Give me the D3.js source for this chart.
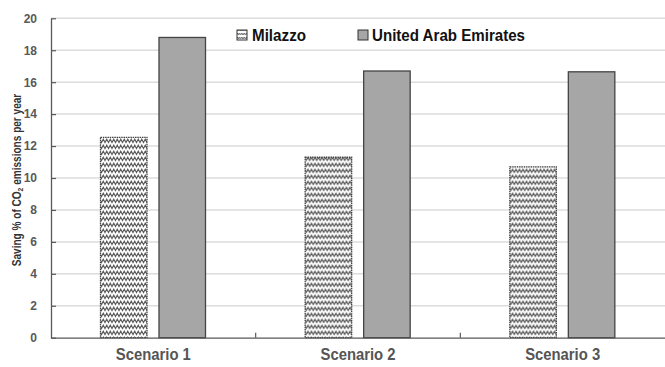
<!DOCTYPE html>
<html>
<head>
<meta charset="utf-8">
<script src="https://cdn.jsdelivr.net/npm/d3@7"></script>
<style>
  html, body { margin: 0; padding: 0; background: #fff; }
  svg { display: block; }
  text { font-family: "Liberation Sans", Arial, sans-serif; font-weight: bold; }
</style>
</head>
<body>
<svg id="chart" width="665" height="367"></svg>
<script>
// Scenario categories and CO2 saving percentages per year
const scenarios = ["Scenario 1", "Scenario 2", "Scenario 3"];
const seriesNames = ["Milazzo", "United Arab Emirates"];
const milazzo = [12.55, 11.3, 10.7];
const uae = [18.8, 16.7, 16.65];
const yTicks = [0, 2, 4, 6, 8, 10, 12, 14, 16, 18, 20];

const rows = scenarios.map((s, i) => ({ scenario: s, values: [milazzo[i], uae[i]] }));

const svg = d3.select("#chart");
const margin = { left: 51, right: 0, top: 18, bottom: 29 };
const W = 665, H = 367;

const x = d3.scaleBand().domain(scenarios).range([margin.left, W - margin.right]).paddingInner(0).paddingOuter(0);
const xs = d3.scaleBand().domain(seriesNames).range([49.5, 154.5]).paddingInner(0.205);
const y = d3.scaleLinear().domain([0, 20]).range([H - margin.bottom - 0.3, margin.top + 0.3]);

// Zigzag hatch used for the Milazzo bars
const defs = svg.append("defs");
const pat = defs.append("pattern")
  .attr("id", "zigzag")
  .attr("patternUnits", "userSpaceOnUse")
  .attr("width", 7).attr("height", 6);
pat.append("rect").attr("width", 7).attr("height", 6).attr("fill", "#fff");
pat.append("path")
  .attr("d", "M-1.75,1.2 L0,4.6 L1.75,1.2 L3.5,4.6 L5.25,1.2 L7,4.6 L8.75,1.2")
  .attr("fill", "none").attr("stroke", "#5a5a5a").attr("stroke-width", 1.15);

const patSmall = defs.append("pattern")
  .attr("id", "zigzagSmall")
  .attr("patternUnits", "userSpaceOnUse")
  .attr("width", 4.5).attr("height", 4);
patSmall.append("rect").attr("width", 4.5).attr("height", 4).attr("fill", "#fff");
patSmall.append("path")
  .attr("d", "M0,3 L1.125,1 L2.25,3 L3.375,1 L4.5,3")
  .attr("fill", "none").attr("stroke", "#555").attr("stroke-width", 0.9);

// Horizontal gridlines
svg.append("g")
  .selectAll("line")
  .data(yTicks.filter(t => t > 0))
  .join("line")
  .attr("x1", margin.left).attr("x2", W)
  .attr("y1", d => y(d)).attr("y2", d => y(d))
  .attr("stroke", "#dcdcdc").attr("stroke-width", 1.5);

// Bars
const fills = ["url(#zigzag)", "#a6a6a6"];
const groups = svg.append("g")
  .selectAll("g")
  .data(rows)
  .join("g")
  .attr("transform", d => `translate(${x(d.scenario) - margin.left},0)`);

groups.selectAll("rect")
  .data(d => d.values.map((v, i) => ({ name: seriesNames[i], value: v, i })))
  .join("rect")
  .attr("x", d => margin.left + xs(d.name))
  .attr("width", xs.bandwidth())
  .attr("y", d => y(d.value))
  .attr("height", d => y(0) - y(d.value))
  .attr("fill", d => fills[d.i])
  .attr("stroke", "#444")
  .attr("stroke-width", 1.3)
  .attr("stroke-dasharray", d => d.i === 0 ? "1.5,0.8" : null);

// Y axis
const yAxis = svg.append("g")
  .attr("transform", `translate(${margin.left},0)`)
  .call(d3.axisLeft(y).tickValues(yTicks).tickSize(5).tickPadding(9).tickSizeOuter(0));
yAxis.select(".domain").attr("stroke", "#595959").attr("stroke-width", 1.3);
yAxis.selectAll(".tick line").attr("stroke", "#595959").attr("stroke-width", 1.2)
  .attr("x1", 0).attr("x2", 5);
yAxis.selectAll(".tick text")
  .attr("fill", "#595959")
  .style("font-size", "12px");

// X axis
const xAxis = svg.append("g")
  .attr("transform", `translate(0,${y(0)})`)
  .call(d3.axisBottom(x).tickSize(0).tickPadding(11).tickSizeOuter(0));
xAxis.select(".domain").attr("stroke", "#595959").attr("stroke-width", 1.3);
xAxis.selectAll(".tick text")
  .attr("fill", "#555")
  .style("font-size", "16px")
  .attr("textLength", 75)
  .attr("lengthAdjust", "spacingAndGlyphs");

// Category boundary tick marks
svg.append("g")
  .selectAll("line")
  .data(scenarios.slice(1))
  .join("line")
  .attr("x1", d => x(d)).attr("x2", d => x(d))
  .attr("y1", y(0)).attr("y2", y(0) - 5)
  .attr("stroke", "#595959").attr("stroke-width", 1.2);

// Y axis title, horizontally condensed to fit the axis height
const titleG = svg.append("g");
const yTitle = titleG.append("text")
  .attr("text-anchor", "middle")
  .attr("fill", "#333")
  .style("font-size", "12px");
yTitle.append("tspan").text("Saving % of CO");
yTitle.append("tspan").attr("dy", 2).style("font-size", "8px").text("2");
yTitle.append("tspan").attr("dy", -2).text(" emissions per year");
const natural = yTitle.node().getBBox().width;
const sx = 173 / natural;
titleG.attr("transform", `translate(21,${(y(0) + y(20)) / 2 + 2}) rotate(-90) scale(${sx},1)`);

// Legend
const legend = svg.append("g");
legend.append("rect")
  .attr("x", 228).attr("y", 21).attr("width", 310).attr("height", 26)
  .attr("fill", "#fff");
const legendItems = [
  { name: seriesNames[0], fill: "url(#zigzagSmall)", bx: 237, tx: 252, w: 54 },
  { name: seriesNames[1], fill: "#a6a6a6", bx: 358, tx: 372, w: 153 }
];
const li = legend.selectAll("g.item")
  .data(legendItems)
  .join("g").attr("class", "item");
li.append("rect")
  .attr("x", d => d.bx).attr("y", 30).attr("width", 10).attr("height", 10)
  .attr("fill", d => d.fill).attr("stroke", "#333").attr("stroke-width", 1);
li.append("text")
  .attr("x", d => d.tx).attr("y", 41)
  .attr("fill", "#111")
  .style("font-size", "17px")
  .attr("textLength", d => d.w)
  .attr("lengthAdjust", "spacingAndGlyphs")
  .text(d => d.name);
</script>
</body>
</html>
